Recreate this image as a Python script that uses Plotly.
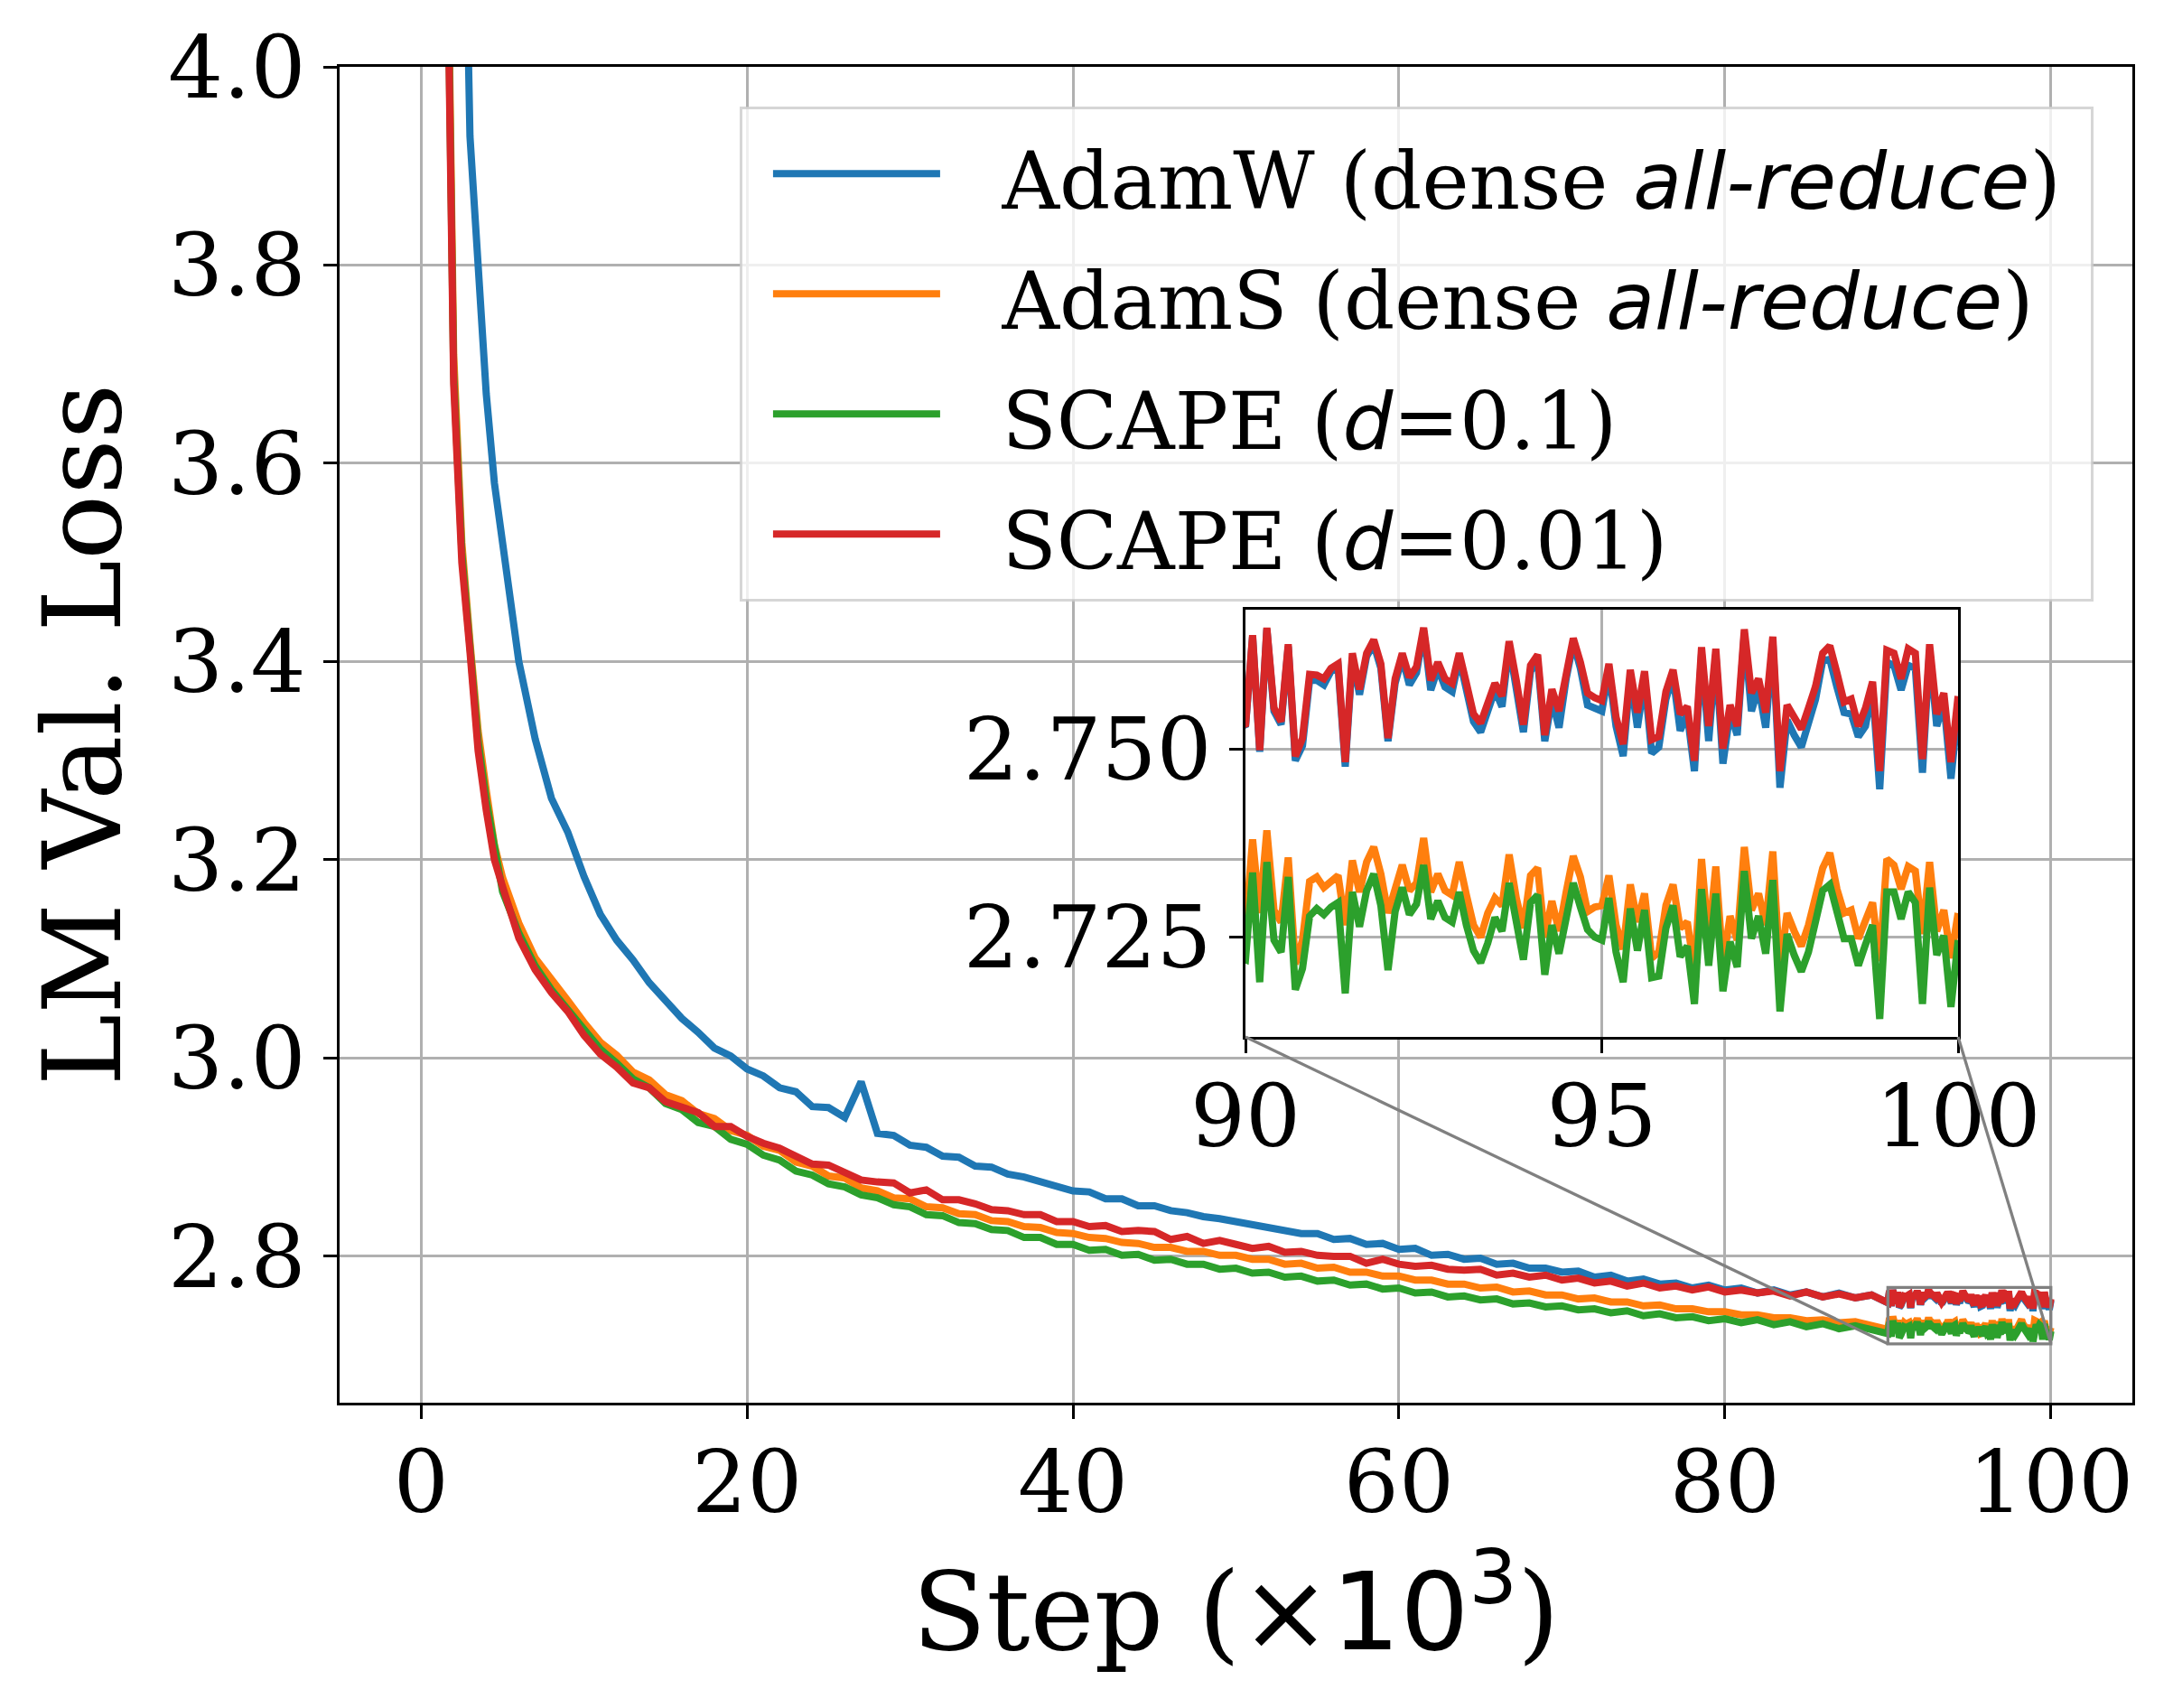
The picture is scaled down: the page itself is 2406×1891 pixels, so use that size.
import plotly.graph_objects as go

# ---------------- data (step in thousands, LM validation loss) ----------------
STEPS_MAIN = [1.0, 1.5, 2.0, 2.5, 3.0, 3.5, 4.0, 4.5,
              5, 6, 7, 8, 9, 10, 11, 12, 13, 14, 15, 16, 17, 18, 19, 20,
              21, 22, 23, 24, 25, 26, 27, 28, 29, 30, 31, 32, 33, 34, 35, 36,
              37, 38, 39, 40, 41, 42, 43, 44, 45, 46, 47, 48, 49, 50, 51, 52,
              53, 54, 55, 56, 57, 58, 59, 60, 61, 62, 63, 64, 65, 66, 67, 68,
              69, 70, 71, 72, 73, 74, 75, 76, 77, 78, 79, 80, 81, 82, 83, 84,
              85, 86, 87, 88, 89]

ADAMW_MAIN = [6.0, 5.3, 4.8, 4.35, 3.93, 3.80, 3.67, 3.58,
              3.520, 3.400, 3.322, 3.262, 3.228, 3.183, 3.145, 3.119, 3.099, 3.076, 3.058, 3.040,
              3.026, 3.010, 3.002, 2.989, 2.982, 2.970, 2.966, 2.951, 2.950, 2.940, 2.976, 2.924,
              2.922, 2.912, 2.910, 2.901, 2.900, 2.891, 2.890, 2.883, 2.880, 2.875, 2.871, 2.866,
              2.865, 2.858, 2.858, 2.851, 2.851, 2.846, 2.844, 2.840, 2.838, 2.835, 2.832, 2.829,
              2.827, 2.823, 2.823, 2.817, 2.818, 2.812, 2.813, 2.807, 2.808, 2.801, 2.802, 2.797,
              2.798, 2.792, 2.793, 2.788, 2.788, 2.784, 2.785, 2.779, 2.781, 2.775, 2.777, 2.772,
              2.773, 2.768, 2.771, 2.766, 2.768, 2.763, 2.766, 2.761, 2.764, 2.759, 2.763, 2.758,
              2.761]

ADAMS_MAIN = [5.1, 4.30, 3.71, 3.52, 3.42, 3.33, 3.27, 3.215,
              3.182, 3.136, 3.101, 3.078, 3.058, 3.036, 3.016, 3.003, 2.986, 2.978, 2.963, 2.957,
              2.944, 2.939, 2.927, 2.922, 2.911, 2.907, 2.895, 2.891, 2.881, 2.879, 2.869, 2.866,
              2.859, 2.858, 2.850, 2.849, 2.843, 2.842, 2.836, 2.835, 2.830, 2.829, 2.824, 2.823,
              2.819, 2.818, 2.814, 2.813, 2.809, 2.809, 2.805, 2.805, 2.801, 2.801, 2.797, 2.797,
              2.792, 2.793, 2.788, 2.789, 2.784, 2.784, 2.780, 2.780, 2.776, 2.776, 2.772, 2.772,
              2.768, 2.769, 2.764, 2.765, 2.761, 2.761, 2.757, 2.758, 2.754, 2.754, 2.750, 2.751,
              2.747, 2.747, 2.744, 2.744, 2.741, 2.741, 2.738, 2.738, 2.735, 2.736, 2.733, 2.734,
              2.731]

SCAPE01_MAIN = [5.05, 4.27, 3.69, 3.51, 3.415, 3.32, 3.26, 3.21,
                3.168, 3.126, 3.093, 3.069, 3.049, 3.028, 3.009, 2.995, 2.979, 2.970, 2.954, 2.948,
                2.935, 2.931, 2.918, 2.913, 2.902, 2.897, 2.886, 2.882, 2.873, 2.870, 2.862, 2.859,
                2.852, 2.850, 2.842, 2.841, 2.834, 2.833, 2.827, 2.826, 2.819, 2.819, 2.812, 2.812,
                2.806, 2.807, 2.801, 2.802, 2.796, 2.797, 2.792, 2.792, 2.787, 2.788, 2.783, 2.784,
                2.779, 2.780, 2.775, 2.776, 2.771, 2.772, 2.767, 2.768, 2.763, 2.764, 2.759, 2.760,
                2.756, 2.757, 2.752, 2.753, 2.749, 2.750, 2.746, 2.747, 2.743, 2.745, 2.740, 2.742,
                2.738, 2.739, 2.735, 2.737, 2.733, 2.736, 2.731, 2.734, 2.729, 2.732, 2.727, 2.730,
                2.726]

SCAPE001_MAIN = [5.0, 4.25, 3.68, 3.50, 3.41, 3.31, 3.25, 3.20,
                 3.173, 3.121, 3.089, 3.066, 3.047, 3.023, 3.004, 2.991, 2.975, 2.970, 2.956, 2.950,
                 2.945, 2.931, 2.931, 2.921, 2.914, 2.909, 2.900, 2.893, 2.892, 2.884, 2.877, 2.875,
                 2.874, 2.864, 2.867, 2.857, 2.857, 2.853, 2.847, 2.846, 2.842, 2.842, 2.835, 2.835,
                 2.830, 2.831, 2.825, 2.826, 2.825, 2.817, 2.820, 2.813, 2.816, 2.812, 2.808, 2.810,
                 2.804, 2.805, 2.801, 2.800, 2.800, 2.793, 2.797, 2.792, 2.790, 2.791, 2.787, 2.786,
                 2.787, 2.781, 2.783, 2.779, 2.781, 2.776, 2.778, 2.773, 2.775, 2.770, 2.773, 2.768,
                 2.770, 2.766, 2.769, 2.764, 2.766, 2.763, 2.765, 2.760, 2.764, 2.759, 2.762, 2.758,
                 2.761]

STEPS_ZOOM = [90.0, 90.1, 90.2, 90.3, 90.4, 90.5, 90.6, 90.7, 90.8, 90.9,
              91.0, 91.1, 91.2, 91.3, 91.4, 91.5, 91.6, 91.7, 91.8, 91.9,
              92.0, 92.1, 92.2, 92.3, 92.4, 92.5, 92.6, 92.7, 92.8, 92.9,
              93.0, 93.1, 93.2, 93.3, 93.4, 93.5, 93.6, 93.7, 93.8, 93.9,
              94.0, 94.1, 94.2, 94.3, 94.4, 94.5, 94.6, 94.7, 94.8, 94.9,
              95.0, 95.1, 95.2, 95.3, 95.4, 95.5, 95.6, 95.7, 95.8, 95.9,
              96.0, 96.1, 96.2, 96.3, 96.4, 96.5, 96.6, 96.7, 96.8, 96.9,
              97.0, 97.1, 97.2, 97.3, 97.4, 97.5, 97.6, 97.7, 97.8, 97.9,
              98.0, 98.1, 98.2, 98.3, 98.4, 98.5, 98.6, 98.7, 98.8, 98.9,
              99.0, 99.1, 99.2, 99.3, 99.4, 99.5, 99.6, 99.7, 99.8, 99.9,
              100.0]

ADAMW_ZOOM = [2.7530, 2.7650, 2.7497, 2.7660, 2.7551, 2.7533, 2.7637, 2.7485, 2.7505, 2.7592,
              2.7592, 2.7586, 2.7604, 2.7610, 2.7477, 2.7622, 2.7573, 2.7624, 2.7640, 2.7608,
              2.7511, 2.7588, 2.7622, 2.7586, 2.7602, 2.7658, 2.7579, 2.7608, 2.7583, 2.7577,
              2.7622, 2.7579, 2.7537, 2.7523, 2.7549, 2.7579, 2.7557, 2.7638, 2.7581, 2.7523,
              2.7604, 2.7618, 2.7511, 2.7567, 2.7529, 2.7594, 2.7642, 2.7608, 2.7559, 2.7555,
              2.7551, 2.7604, 2.7531, 2.7491, 2.7598, 2.7529, 2.7594, 2.7495, 2.7503, 2.7567,
              2.7598, 2.7525, 2.7547, 2.7471, 2.7628, 2.7511, 2.7626, 2.7481, 2.7549, 2.7519,
              2.7654, 2.7551, 2.7583, 2.7529, 2.7642, 2.7449, 2.7539, 2.7519, 2.7503, 2.7535,
              2.7567, 2.7618, 2.7620, 2.7583, 2.7549, 2.7547, 2.7517, 2.7531, 2.7581, 2.7447,
              2.7616, 2.7612, 2.7579, 2.7612, 2.7608, 2.7469, 2.7632, 2.7531, 2.7563, 2.7461,
              2.7555]

ADAMS_ZOOM = [2.7262, 2.7380, 2.7282, 2.7392, 2.7286, 2.7270, 2.7356, 2.7214, 2.7246, 2.7324,
              2.7330, 2.7316, 2.7324, 2.7332, 2.7266, 2.7352, 2.7310, 2.7350, 2.7370, 2.7334,
              2.7282, 2.7318, 2.7346, 2.7312, 2.7322, 2.7382, 2.7310, 2.7334, 2.7312, 2.7306,
              2.7350, 2.7306, 2.7266, 2.7250, 2.7282, 2.7302, 2.7292, 2.7360, 2.7302, 2.7262,
              2.7332, 2.7342, 2.7250, 2.7298, 2.7258, 2.7310, 2.7358, 2.7330, 2.7284, 2.7290,
              2.7292, 2.7332, 2.7266, 2.7234, 2.7320, 2.7270, 2.7308, 2.7222, 2.7230, 2.7292,
              2.7320, 2.7262, 2.7270, 2.7206, 2.7354, 2.7246, 2.7344, 2.7214, 2.7278, 2.7246,
              2.7370, 2.7286, 2.7308, 2.7266, 2.7364, 2.7206, 2.7282, 2.7258, 2.7238, 2.7266,
              2.7302, 2.7342, 2.7362, 2.7314, 2.7282, 2.7286, 2.7248, 2.7270, 2.7296, 2.7218,
              2.7354, 2.7346, 2.7314, 2.7344, 2.7338, 2.7254, 2.7350, 2.7258, 2.7286, 2.7222,
              2.7282]

SCAPE01_ZOOM = [2.7220, 2.7336, 2.7190, 2.7350, 2.7246, 2.7230, 2.7330, 2.7180, 2.7208, 2.7278,
                2.7288, 2.7280, 2.7290, 2.7296, 2.7175, 2.7310, 2.7264, 2.7312, 2.7334, 2.7292,
                2.7206, 2.7284, 2.7316, 2.7280, 2.7294, 2.7346, 2.7274, 2.7298, 2.7276, 2.7270,
                2.7310, 2.7266, 2.7232, 2.7216, 2.7242, 2.7276, 2.7258, 2.7322, 2.7266, 2.7220,
                2.7296, 2.7306, 2.7200, 2.7266, 2.7228, 2.7278, 2.7322, 2.7290, 2.7260, 2.7250,
                2.7246, 2.7302, 2.7230, 2.7190, 2.7288, 2.7232, 2.7286, 2.7196, 2.7198, 2.7262,
                2.7292, 2.7224, 2.7238, 2.7161, 2.7314, 2.7212, 2.7308, 2.7178, 2.7244, 2.7210,
                2.7338, 2.7248, 2.7278, 2.7228, 2.7326, 2.7151, 2.7254, 2.7226, 2.7204, 2.7230,
                2.7270, 2.7312, 2.7320, 2.7286, 2.7248, 2.7248, 2.7212, 2.7240, 2.7266, 2.7141,
                2.7310, 2.7310, 2.7274, 2.7310, 2.7296, 2.7161, 2.7316, 2.7226, 2.7252, 2.7157,
                2.7246]

SCAPE001_ZOOM = [2.7531, 2.7652, 2.7499, 2.7662, 2.7555, 2.7537, 2.7640, 2.7491, 2.7515, 2.7600,
                 2.7599, 2.7594, 2.7608, 2.7614, 2.7483, 2.7628, 2.7580, 2.7628, 2.7646, 2.7614,
                 2.7515, 2.7594, 2.7628, 2.7596, 2.7610, 2.7662, 2.7592, 2.7616, 2.7594, 2.7588,
                 2.7628, 2.7588, 2.7547, 2.7535, 2.7559, 2.7588, 2.7571, 2.7644, 2.7592, 2.7533,
                 2.7612, 2.7626, 2.7519, 2.7580, 2.7551, 2.7604, 2.7648, 2.7616, 2.7575, 2.7569,
                 2.7565, 2.7614, 2.7543, 2.7507, 2.7606, 2.7549, 2.7604, 2.7513, 2.7517, 2.7577,
                 2.7606, 2.7547, 2.7557, 2.7485, 2.7636, 2.7531, 2.7634, 2.7501, 2.7559, 2.7531,
                 2.7660, 2.7575, 2.7594, 2.7549, 2.7650, 2.7471, 2.7559, 2.7543, 2.7527, 2.7555,
                 2.7584, 2.7628, 2.7638, 2.7602, 2.7563, 2.7567, 2.7531, 2.7555, 2.7590, 2.7471,
                 2.7632, 2.7628, 2.7594, 2.7634, 2.7628, 2.7487, 2.7640, 2.7547, 2.7575, 2.7483,
                 2.7571]

SERIES_NAMES = [
    '&nbsp;&nbsp;<span style="font-size:88px">AdamW (dense </span>'
    '<span style="font-family:DejaVu Sans;font-style:italic;font-size:88px">all-reduce</span>'
    '<span style="font-size:88px">)&nbsp;</span>',
    '&nbsp;&nbsp;<span style="font-size:88px">AdamS (dense </span>'
    '<span style="font-family:DejaVu Sans;font-style:italic;font-size:88px">all-reduce</span>'
    '<span style="font-size:88px">)&nbsp;</span>',
    '&nbsp;&nbsp;<span style="font-size:88px">SCAPE (</span>'
    '<span style="font-family:DejaVu Sans;font-style:italic;font-size:88px">d</span>'
    '<span style="font-size:88px">=0.1)</span>',
    '&nbsp;&nbsp;<span style="font-size:88px">SCAPE (</span>'
    '<span style="font-family:DejaVu Sans;font-style:italic;font-size:88px">d</span>'
    '<span style="font-size:88px">=0.01)</span>',
]
COLORS = ["#1f77b4", "#ff7f0e", "#2ca02c", "#d62728"]

MAIN_X_TICKS = [0, 20, 40, 60, 80, 100]
MAIN_Y_TICKS = [2.8, 3.0, 3.2, 3.4, 3.6, 3.8, 4.0]
MAIN_Y_TICKTEXT = ["2.8", "3.0", "3.2", "3.4", "3.6", "3.8", "4.0"]
INSET_X_TICKS = [90, 95, 100]
INSET_Y_TICKS = [2.725, 2.750]
INSET_Y_TICKTEXT = ["2.725", "2.750"]

MAIN_XRANGE = [-5, 105]
MAIN_YRANGE = [2.6523, 4.0]
INSET_XRANGE = [90, 100]
INSET_YRANGE = [2.7117, 2.7686]

# ---------------- figure ----------------
W, H = 2406, 1891
M_L, M_R, M_T, M_B = 376, 45, 74, 338
INSET_DOM_X = [0.5053, 0.9028]
INSET_DOM_Y = [0.2738, 0.5936]

FONT = "DejaVu Serif"
GRID = "#b0b0b0"
LW = 8

fig = go.Figure()

series = [
    (ADAMW_MAIN, ADAMW_ZOOM),
    (ADAMS_MAIN, ADAMS_ZOOM),
    (SCAPE01_MAIN, SCAPE01_ZOOM),
    (SCAPE001_MAIN, SCAPE001_ZOOM),
]
steps_all = STEPS_MAIN + STEPS_ZOOM

for (ymain, yzoom), name, col in zip(series, SERIES_NAMES, COLORS):
    fig.add_trace(go.Scatter(x=steps_all, y=ymain + yzoom, mode="lines", name=name,
                             line=dict(color=col, width=LW), xaxis="x", yaxis="y"))

for (ymain, yzoom), name, col in zip(series, SERIES_NAMES, COLORS):
    fig.add_trace(go.Scatter(x=steps_all, y=ymain + yzoom, mode="lines", name=name,
                             line=dict(color=col, width=LW), xaxis="x2", yaxis="y2",
                             showlegend=False))

axis_common = dict(showline=True, linecolor="black", linewidth=3.3, mirror=True,
                   ticks="outside", ticklen=15, tickwidth=3.3, tickcolor="black",
                   showgrid=True, gridcolor=GRID, gridwidth=3.3, zeroline=False,
                   tickfont=dict(family=FONT, size=96, color="black"))

fig.update_layout(
    width=W, height=H,
    margin=dict(l=M_L, r=M_R, t=M_T, b=M_B, autoexpand=False),
    paper_bgcolor="white", plot_bgcolor="white",
    font=dict(family=FONT, color="black"),
    xaxis=dict(domain=[0, 1], range=MAIN_XRANGE, tickvals=MAIN_X_TICKS, ticklabelstandoff=-12,
               title=dict(text='Step (<span style="font-family:DejaVu Sans">×10<sup>3</sup></span>)',
                          font=dict(family=FONT, size=120), standoff=20),
               anchor="y", **axis_common),
    yaxis=dict(domain=[0, 1], range=MAIN_YRANGE, tickvals=MAIN_Y_TICKS, ticktext=MAIN_Y_TICKTEXT,
               title=dict(text="LM Val. Loss", font=dict(family=FONT, size=120), standoff=12),
               anchor="x", **axis_common),
    xaxis2=dict(domain=INSET_DOM_X, range=INSET_XRANGE, tickvals=INSET_X_TICKS,
                ticklabelstandoff=-12, anchor="y2", **axis_common),
    yaxis2=dict(domain=INSET_DOM_Y, range=INSET_YRANGE, tickvals=INSET_Y_TICKS,
                ticktext=INSET_Y_TICKTEXT, anchor="x2", **axis_common),
    legend=dict(x=0.9783, y=0.9705, xanchor="right", yanchor="top",
                bgcolor="rgba(255,255,255,0.8)", bordercolor="rgba(204,204,204,0.8)",
                borderwidth=3, font=dict(family=FONT, size=100, color="black"),
                itemwidth=185, indentation=29, tracegroupgap=0),
    showlegend=True,
)


def to_paper(x, y):
    px = (x - MAIN_XRANGE[0]) / (MAIN_XRANGE[1] - MAIN_XRANGE[0])
    py = (y - MAIN_YRANGE[0]) / (MAIN_YRANGE[1] - MAIN_YRANGE[0])
    return px, py


# zoom indicator rectangle on the main axes
fig.add_shape(type="rect", xref="x", yref="y",
              x0=INSET_XRANGE[0], x1=INSET_XRANGE[1], y0=INSET_YRANGE[0], y1=INSET_YRANGE[1],
              line=dict(color="#808080", width=3.3), fillcolor="rgba(0,0,0,0)", layer="above")

# connector lines (inset lower corners -> rectangle lower corners)
for inset_px, data_x in ((INSET_DOM_X[0], INSET_XRANGE[0]), (INSET_DOM_X[1], INSET_XRANGE[1])):
    rx, ry = to_paper(data_x, INSET_YRANGE[0])
    fig.add_shape(type="line", xref="paper", yref="paper",
                  x0=inset_px, y0=INSET_DOM_Y[0], x1=rx, y1=ry,
                  line=dict(color="#808080", width=3.3), layer="above")

fig.write_html("out.html")
